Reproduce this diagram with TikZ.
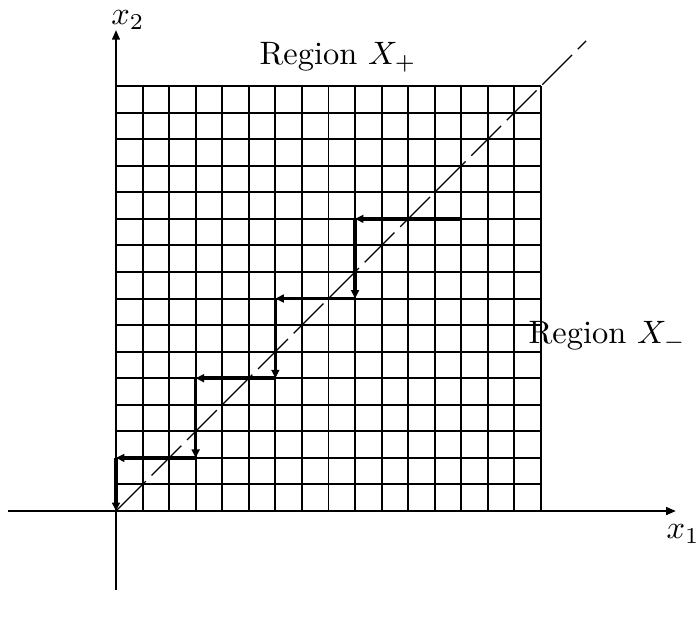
\documentclass[tikz,border=0pt]{standalone}
\usetikzlibrary{arrows.meta}
\begin{document}
\begin{tikzpicture}[x=8.194pt,y=8.194pt,
  gridline/.style={line width=0.6pt},
  axisline/.style={line width=0.6pt,-{Triangle[length=3pt,width=2.4pt]}},
  stairline/.style={line width=1.1pt,-{Triangle[length=2.6pt,width=2.4pt]}},
  diagline/.style={line width=0.4pt,dash pattern=on 13pt off 2.5pt},
  lbl/.style={inner sep=0pt}]
\useasboundingbox (-4.367,-4.029) rectangle (21.837,19.24);
% grid
\draw[gridline] (0,0) grid[step=1] (16,16);
% axes
\coordinate (xs) at (-4.07,0);
\coordinate (xe) at (21.08,0);
\coordinate (ys) at (0,-2.97);
\coordinate (ye) at (0,18.11);
\draw[axisline] (xs) -- (xe);
\draw[axisline] (ys) -- (ye);
% diagonal
\coordinate (o) at (0,0);
\coordinate (d) at (17.7,17.7);
\draw[diagline] (o) -- (d);
% staircase
\coordinate (p0) at (13,11);
\coordinate (p1) at (9,11);
\coordinate (p2) at (9,8);
\coordinate (p3) at (6,8);
\coordinate (p4) at (6,5);
\coordinate (p5) at (3,5);
\coordinate (p6) at (3,2);
\coordinate (p7) at (0,2);
\coordinate (p8) at (0,0);
\draw[stairline] (p0) -- (p1);
\draw[stairline] (p1) -- (p2);
\draw[stairline] (p2) -- (p3);
\draw[stairline] (p3) -- (p4);
\draw[stairline] (p4) -- (p5);
\draw[stairline] (p5) -- (p6);
\draw[stairline] (p6) -- (p7);
\draw[stairline] (p7) -- (p8);
% labels
\node[lbl] (lx2) at (0.45,18.5) {$x_2$};
\node[lbl] (lx1) at (21.35,-0.87) {$x_1$};
\node[lbl] (rp) at (8.36,17.09) {Region $X_+$};
\node[lbl,anchor=west] (rm) at (15.51,6.59) {Region $X_-$};
\end{tikzpicture}
\end{document}
